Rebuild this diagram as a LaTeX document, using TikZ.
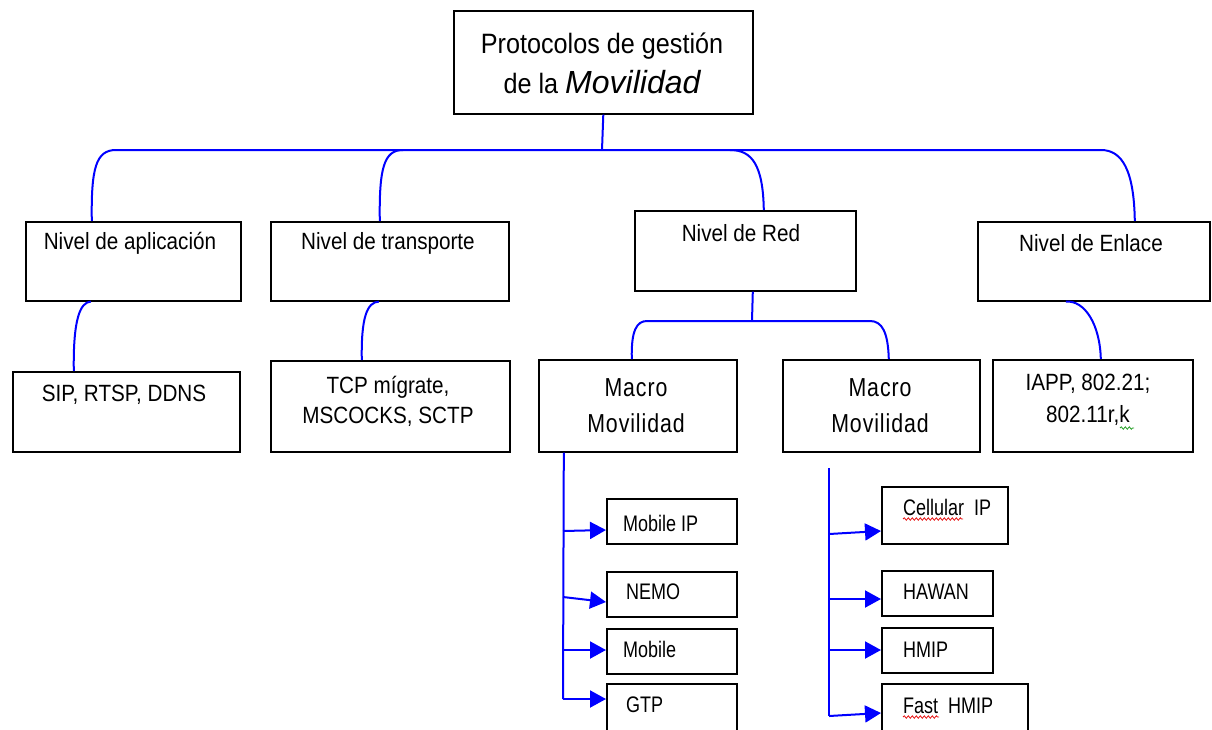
\documentclass[tikz,border=0pt]{standalone}
\usepackage{fontspec}
\usetikzlibrary{arrows.meta,decorations.pathmorphing}

% Narrow sans faces for the labels
\newfontfamily\ttlfont[FakeStretch=0.9]{Liberation Sans}
\newfontfamily\lvlfont[FakeStretch=0.88]{Liberation Sans}
\newfontfamily\smfont[FakeStretch=0.8]{Liberation Sans}
\newfontfamily\macfont[FakeStretch=0.82,LetterSpace=3.5]{Liberation Sans}
\newfontfamily\widesans{Liberation Sans}

\definecolor{linkblue}{RGB}{0,0,255}
\definecolor{spellred}{RGB}{230,20,20}
\definecolor{gramgreen}{RGB}{40,160,40}

\tikzset{
  box/.style={draw=black, line width=1.6pt, rectangle, inner sep=0pt, anchor=north west},
  wire/.style={draw=linkblue, line width=2pt},
  feed/.style={wire, -{Triangle[length=16pt,width=17pt]}},
  ttl/.style={font=\ttlfont\fontsize{28}{40}\selectfont, inner sep=0pt, align=center},
  lvl/.style={font=\lvlfont\fontsize{23.5}{30}\selectfont, inner sep=0pt, align=center},
  mac/.style={font=\macfont\fontsize{26}{36}\selectfont, inner sep=0pt, align=center},
  sm/.style={font=\smfont\fontsize{22.5}{26}\selectfont, inner sep=0pt, anchor=west},
  squiggle/.style={line width=0.8pt, decorate, decoration={snake, amplitude=1.2pt, segment length=4pt}}
}

\begin{document}
\begin{tikzpicture}[x=1pt, y=-1pt]
\useasboundingbox (0,0) rectangle (1212,729);
\clip (0,0) rectangle (1212,729);

% ---- boxes ----
\node[box, minimum width=299pt, minimum height=103pt] (title) at (453,10) {};
\node[box, minimum width=215pt, minimum height=79pt] (apl) at (25,221) {};
\node[box, minimum width=238pt, minimum height=79pt] (tra) at (270,221) {};
\node[box, minimum width=221pt, minimum height=80pt] (red) at (634,210) {};
\node[box, minimum width=232pt, minimum height=79pt] (enl) at (977,221) {};
\node[box, minimum width=227pt, minimum height=80pt] (sip) at (12,371) {};
\node[box, minimum width=239pt, minimum height=91pt] (tcp) at (270,360) {};
\node[box, minimum width=198pt, minimum height=92pt] (m1) at (538,359) {};
\node[box, minimum width=197pt, minimum height=92pt] (m2) at (782,359) {};
\node[box, minimum width=200pt, minimum height=92pt] (iapp) at (992,359) {};
\node[box, minimum width=130pt, minimum height=45pt] (mip) at (606,498) {};
\node[box, minimum width=130pt, minimum height=45pt] (nemo) at (606,571) {};
\node[box, minimum width=130pt, minimum height=45pt] (mob) at (606,628) {};
\node[box, minimum width=130pt, minimum height=60pt] (gtp) at (606,683) {};
\node[box, minimum width=126pt, minimum height=57pt] (cip) at (881,486) {};
\node[box, minimum width=111pt, minimum height=45pt] (haw) at (881,570) {};
\node[box, minimum width=111pt, minimum height=45pt] (hmip) at (881,627) {};
\node[box, minimum width=146pt, minimum height=60pt] (fhm) at (881,683) {};

% ---- labels ----
\node[ttl] (titletxt) at (602,63) {Protocolos de gestión\\de la {\widesans\itshape\fontsize{32}{40}\selectfont Movilidad}};
\node[lvl] (apltxt) at (130,243) {Nivel de aplicación};
\node[lvl] (tratxt) at (388,243) {Nivel de transporte};
\node[lvl] (redtxt) at (741,233) {Nivel de Red};
\node[lvl] (enltxt) at (1091,243) {Nivel de Enlace};
\node[lvl] (siptxt) at (124,395) {SIP, RTSP, DDNS};
\node[lvl] (tcptxt) at (388,401) {TCP mígrate,\\MSCOCKS, SCTP};
\node[lvl, font=\lvlfont\fontsize{23.5}{32}\selectfont] (iapptxt) at (1088,400) {IAPP, 802.21;\\802.11r,k};
\node[mac] (m1txt) at (636,406) {Macro\\Movilidad};
\node[mac] (m2txt) at (880,406) {Macro\\Movilidad};
\node[sm] (miptxt) at (623,523) {Mobile IP};
\node[sm] (nemotxt) at (626,592) {NEMO};
\node[sm] (mobtxt) at (623,649) {Mobile};
\node[sm] (gtptxt) at (626,705) {GTP};
\node[sm] (ciptxt) at (903,507) {Cellular\ \ IP};
\node[sm] (hawtxt) at (903,592) {HAWAN};
\node[sm] (hmiptxt) at (903,650) {HMIP};
\node[sm] (fhmtxt) at (903,706) {Fast\ \ HMIP};

% spell-check marks under the labels
\draw[squiggle, spellred] (903,519) -- (963,519);
\draw[squiggle, spellred] (903,717) -- (939,717);
\draw[squiggle, gramgreen] (1120,428) -- (1134,428);

% ---- top-level bus ----
\coordinate (bus) at (602,150);
\coordinate (busL) at (116,150);
\coordinate (busT) at (403,150);
\coordinate (busN) at (730,150);
\coordinate (busR) at (1101,150);
\draw[wire] (title.south) -- (bus);
\draw[wire] ([xshift=-41.5pt]apl.north) .. controls (91,168) and (96,150) .. (busL)
  -- (busR) .. controls (1122,150) and (1134,170) .. ([xshift=41pt]enl.north);
\draw[wire] ([xshift=-10pt]tra.north) .. controls (379,168) and (384,150) .. (busT);
\draw[wire] (busN) .. controls (752,150) and (763,165) .. ([xshift=18.5pt]red.north);

% ---- level to protocol links ----
\draw[wire] ([xshift=-42.5pt]apl.south) .. controls (80,302) and (73,320) .. ([xshift=-52.5pt]sip.north);
\draw[wire] ([xshift=-11pt]tra.south) .. controls (367,302) and (361,318) .. ([xshift=-28.5pt]tcp.north);
\draw[wire] ([xshift=-28pt]enl.south) .. controls (1085,300) and (1100,325) .. ([xshift=8pt]iapp.north);

% ---- network level split ----
\coordinate (netJ) at (752,321);
\coordinate (netL) at (647,321);
\coordinate (netR) at (870,321);
\draw[wire] ([xshift=7.5pt]red.south) -- (netJ);
\draw[wire] ([xshift=-6pt]m1.north) .. controls (631,330) and (637,321) .. (netL)
  -- (netR) .. controls (882,321) and (888,332) .. ([xshift=7.5pt]m2.north);

% ---- left column ----
\coordinate (sL1) at (563,531);
\coordinate (sL2) at (563,597);
\coordinate (sL3) at (563,650);
\draw[wire] ([xshift=-74pt]m1.south) -- (563,699) coordinate (sL4);
\draw[feed] (sL1) -- ([yshift=-32pt]mip.north west);
\draw[feed] (sL2) -- ([yshift=-31pt]nemo.north west);
\draw[feed] (sL3) -- ([yshift=-22pt]mob.north west);
\draw[feed] (sL4) -- ([yshift=-16pt]gtp.north west);

% ---- right column ----
\coordinate (sRtop) at (829,468);
\coordinate (sR1) at (829,534);
\coordinate (sR2) at (829,599);
\coordinate (sR3) at (829,650);
\draw[wire] (sRtop) -- (829,716) coordinate (sR4);
\draw[feed] (sR1) -- ([yshift=-45pt]cip.north west);
\draw[feed] (sR2) -- ([yshift=-29pt]haw.north west);
\draw[feed] (sR3) -- ([yshift=-23pt]hmip.north west);
\draw[feed] (sR4) -- ([yshift=-30pt]fhm.north west);
\end{tikzpicture}
\end{document}
